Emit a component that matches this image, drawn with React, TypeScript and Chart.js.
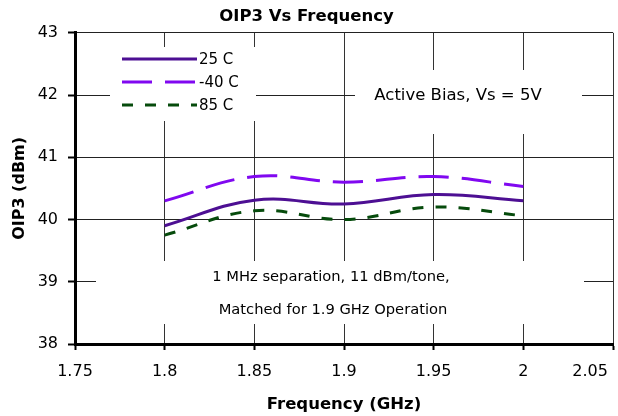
import React, { useEffect, useRef } from 'react';
import { Chart, registerables } from 'chart.js';

Chart.register(...registerables);

// ---- data ----
const frequencies = [1.8, 1.85, 1.9, 1.95, 2.0];
const oip3At25C = [39.9, 40.31, 40.25, 40.4, 40.3];
const oip3AtMinus40C = [40.3, 40.69, 40.6, 40.69, 40.53];
const oip3At85C = [39.75, 40.14, 40.0, 40.2, 40.06];
const seriesLabels = ['25 C', '-40 C', '85 C'];
const xTickLabels = ['1.75', '1.8', '1.85', '1.9', '1.95', '2', '2.05'];
const yTickLabels = ['38', '39', '40', '41', '42', '43'];
const chartTitle = 'OIP3 Vs Frequency';
const xTitle = 'Frequency (GHz)';
const yTitle = 'OIP3 (dBm)';
const biasNote = 'Active Bias, Vs = 5V';
const noteLine1 = '1 MHz separation, 11 dBm/tone,';
const noteLine2 = 'Matched for 1.9 GHz Operation';

const FONT = "'DejaVu Sans', 'Open Sans', sans-serif";

const findLabel = (labels: string[], v: number) => {
  const idx = labels.findIndex((l) => Math.abs(parseFloat(l) - v) < 1e-6);
  return idx;
};

const annotationPlugin = {
  id: 'annotations',
  beforeDatasetsDraw(chart: any) {
    const ctx = chart.ctx as CanvasRenderingContext2D;
    ctx.save();
    // white boxes hiding gridlines behind text
    ctx.fillStyle = '#ffffff';
    ctx.fillRect(110, 47, 146, 74);
    ctx.fillRect(355, 70, 227, 64);
    ctx.fillRect(96, 261, 488, 63);

    ctx.fillStyle = '#000000';
    ctx.font = `16.5px ${FONT}`;
    ctx.textAlign = 'center';
    ctx.textBaseline = 'middle';
    ctx.fillText(biasNote, 458, 96);
    ctx.font = `14.7px ${FONT}`;
    ctx.fillText(noteLine1, 331, 277);
    ctx.fillText(noteLine2, 333, 310);

    // legend
    ctx.font = `15px ${FONT}`;
    chart.data.datasets.forEach((ds: any, i: number) => {
      const y = 59 + i * 23;
      ctx.strokeStyle = ds.borderColor;
      ctx.lineWidth = ds.borderWidth;
      ctx.lineCap = 'butt';
      ctx.setLineDash(ds.borderDash || []);
      ctx.beginPath();
      ctx.moveTo(122, y);
      ctx.lineTo(197, y);
      ctx.stroke();
      ctx.setLineDash([]);
      ctx.textAlign = 'left';
      ctx.fillStyle = '#000000';
      ctx.fillText(ds.label, 199, y + 1);
    });
    ctx.restore();
  },
};

export default function App() {
  const canvasRef = useRef<HTMLCanvasElement | null>(null);

  useEffect(() => {
    if (!canvasRef.current) return;
    const mk = (vals: number[]) => frequencies.map((f, i) => ({ x: f, y: vals[i] }));
    const chart = new Chart(canvasRef.current, {
      type: 'line',
      data: {
        datasets: [
          {
            label: seriesLabels[0],
            data: mk(oip3At25C),
            borderColor: '#4d0f93',
            borderWidth: 3,
            borderDash: [],
            pointRadius: 0,
            tension: 0.4,
            fill: false,
          },
          {
            label: seriesLabels[1],
            data: mk(oip3AtMinus40C),
            borderColor: '#8008f0',
            borderWidth: 3,
            borderDash: [30, 13],
            pointRadius: 0,
            tension: 0.4,
            fill: false,
          },
          {
            label: seriesLabels[2],
            data: mk(oip3At85C),
            borderColor: '#064b0c',
            borderWidth: 3,
            borderDash: [11, 12],
            pointRadius: 0,
            tension: 0.4,
            fill: false,
          },
        ],
      },
      options: {
        animation: false,
        responsive: false,
        devicePixelRatio: 1,
        layout: { padding: { left: 0, right: 5, top: 0, bottom: 0 } },
        plugins: {
          legend: { display: false },
          tooltip: { enabled: false },
          title: {
            display: true,
            text: chartTitle,
            color: '#000',
            font: { family: FONT, size: 16.5, weight: 'bold', lineHeight: 1.2 },
            padding: { top: 7, bottom: 6 },
          },
        },
        scales: {
          x: {
            type: 'linear',
            min: 1.75,
            max: 2.05,
            ticks: {
              stepSize: 0.05,
              autoSkip: false,
              maxRotation: 0,
              color: '#000',
              padding: 12,
              font: { family: FONT, size: 16 },
              callback: (v: any) => {
                const idx = findLabel(xTickLabels, Number(v));
                if (idx < 0) return '';
                const lbl = xTickLabels[idx];
                return idx === xTickLabels.length - 1 ? lbl + '\u00a0'.repeat(9) : lbl;
              },
            },
            grid: {
              color: '#333',
              lineWidth: 1,
              tickLength: 6,
              tickColor: '#000',
              tickWidth: 2,
            },
            border: { color: '#000', width: 3 },
            title: {
              display: true,
              text: xTitle,
              color: '#000',
              font: { family: FONT, size: 16.5, weight: 'bold' },
              padding: { top: 0, bottom: 1 },
            },
            afterFit: (s: any) => {
              s.height = 72;
              s.paddingLeft = 0;
              s.paddingRight = 0;
            },
          },
          y: {
            type: 'linear',
            min: 38,
            max: 43,
            ticks: {
              stepSize: 1,
              color: '#000',
              padding: 10,
              font: { family: FONT, size: 16 },
              callback: (v: any) => {
                const idx = findLabel(yTickLabels, Number(v));
                return idx < 0 ? '' : yTickLabels[idx];
              },
            },
            grid: {
              color: '#222',
              lineWidth: 1,
              tickLength: 7,
              tickColor: '#000',
              tickWidth: 2,
            },
            border: { color: '#000', width: 3 },
            title: {
              display: true,
              text: yTitle,
              color: '#000',
              font: { family: FONT, size: 16, weight: 'bold' },
              padding: { top: 10, bottom: 0 },
            },
            afterFit: (s: any) => {
              s.width = 75;
              s.paddingTop = 0;
              s.paddingBottom = 0;
            },
          },
        },
      },
      plugins: [annotationPlugin],
    } as any);
    return () => chart.destroy();
  }, []);

  return (
    <div style={{ position: 'absolute', left: 0, top: 0, width: 618, height: 416, background: '#fff' }}>
      <canvas ref={canvasRef} width={618} height={416} />
    </div>
  );
}
